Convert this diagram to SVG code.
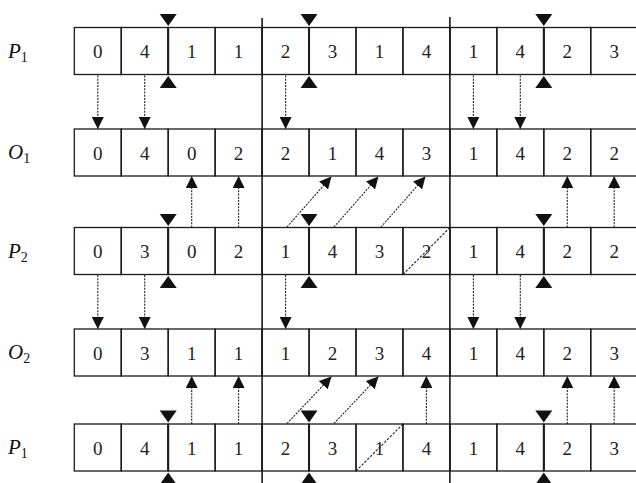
<svg xmlns="http://www.w3.org/2000/svg" width="636" height="483" viewBox="0 0 636 483">
<style>
.cell{fill:none;stroke:#1a1a1a;stroke-width:1.3}
.num{font-family:"Liberation Serif",serif;font-size:19px;fill:#222;text-anchor:middle}
.lab{font-family:"Liberation Serif",serif;font-size:21px;font-style:italic;fill:#111}
.sub{font-size:14px;font-style:normal}
.div{stroke:#1a1a1a;stroke-width:1.6}
.cut{stroke:#1a1a1a;stroke-width:2}
.tri{fill:#111}
.arr{stroke:#222;stroke-width:1.1;stroke-dasharray:2 1.2;fill:none;marker-end:url(#ah)}
.x{stroke:#222;stroke-width:1.1;stroke-dasharray:2.5 1.5;fill:none}
</style>
<defs>
<marker id="ah" viewBox="0 0 12 12" refX="12" refY="6" markerWidth="12" markerHeight="12" markerUnits="userSpaceOnUse" orient="auto">
<path d="M0,0 L12,6 L0,12 z" fill="#111"/>
</marker>
<g id="cells12">
<rect class="cell" x="74.3" y="0" width="46.95" height="47"/>
<rect class="cell" x="121.25" y="0" width="46.95" height="47"/>
<rect class="cell" x="168.2" y="0" width="46.95" height="47"/>
<rect class="cell" x="215.15" y="0" width="46.95" height="47"/>
<rect class="cell" x="262.1" y="0" width="46.95" height="47"/>
<rect class="cell" x="309.05" y="0" width="46.95" height="47"/>
<rect class="cell" x="356" y="0" width="46.95" height="47"/>
<rect class="cell" x="402.95" y="0" width="46.95" height="47"/>
<rect class="cell" x="449.9" y="0" width="46.95" height="47"/>
<rect class="cell" x="496.85" y="0" width="46.95" height="47"/>
<rect class="cell" x="543.8" y="0" width="46.95" height="47"/>
<rect class="cell" x="590.75" y="0" width="46.95" height="47"/>
</g>
<g id="marks">
<line class="cut" x1="168.2" y1="0" x2="168.2" y2="47"/>
<line class="cut" x1="309.05" y1="0" x2="309.05" y2="47"/>
<line class="cut" x1="543.8" y1="0" x2="543.8" y2="47"/>
<polygon class="tri" points="159.7,-13.5 176.7,-13.5 168.2,-1.5"/>
<polygon class="tri" points="300.55,-13.5 317.55,-13.5 309.05,-1.5"/>
<polygon class="tri" points="535.3,-13.5 552.3,-13.5 543.8,-1.5"/>
<polygon class="tri" points="159.7,60.5 176.7,60.5 168.2,48.5"/>
<polygon class="tri" points="300.55,60.5 317.55,60.5 309.05,48.5"/>
<polygon class="tri" points="535.3,60.5 552.3,60.5 543.8,48.5"/>
</g>
</defs>

<g id="dividers">
<line class="div" x1="262.1" y1="18" x2="262.1" y2="483"/>
<line class="div" x1="449.9" y1="17" x2="449.9" y2="483"/>
</g>

<g id="row-P1-top">
<text class="lab" x="8" y="58">P<tspan class="sub" dy="4">1</tspan></text>
<use href="#cells12" y="27.5"/>
<use href="#marks" y="27.5"/>
<g class="num" transform="translate(0,58)">
<text x="97.8">0</text><text x="144.7">4</text><text x="191.7">1</text><text x="238.6">1</text>
<text x="285.6">2</text><text x="332.5">3</text><text x="379.5">1</text><text x="426.4">4</text>
<text x="473.4">1</text><text x="520.3">4</text><text x="567.3">2</text><text x="614.2">3</text>
</g>
</g>

<g id="row-O1">
<text class="lab" x="8" y="159">O<tspan class="sub" dy="4">1</tspan></text>
<use href="#cells12" y="129"/>
<g class="num" transform="translate(0,159.5)">
<text x="97.8">0</text><text x="144.7">4</text><text x="191.7">0</text><text x="238.6">2</text>
<text x="285.6">2</text><text x="332.5">1</text><text x="379.5">4</text><text x="426.4">3</text>
<text x="473.4">1</text><text x="520.3">4</text><text x="567.3">2</text><text x="614.2">2</text>
</g>
</g>

<g id="row-P2">
<text class="lab" x="8" y="258">P<tspan class="sub" dy="4">2</tspan></text>
<use href="#cells12" y="227.5"/>
<use href="#marks" y="227.5"/>
<g class="num" transform="translate(0,258)">
<text x="97.8">0</text><text x="144.7">3</text><text x="191.7">0</text><text x="238.6">2</text>
<text x="285.6">1</text><text x="332.5">4</text><text x="379.5">3</text><text x="426.4">2</text>
<text x="473.4">1</text><text x="520.3">4</text><text x="567.3">2</text><text x="614.2">2</text>
</g>
</g>

<g id="row-O2">
<text class="lab" x="8" y="359">O<tspan class="sub" dy="4">2</tspan></text>
<use href="#cells12" y="329"/>
<g class="num" transform="translate(0,359.5)">
<text x="97.8">0</text><text x="144.7">3</text><text x="191.7">1</text><text x="238.6">1</text>
<text x="285.6">1</text><text x="332.5">2</text><text x="379.5">3</text><text x="426.4">4</text>
<text x="473.4">1</text><text x="520.3">4</text><text x="567.3">2</text><text x="614.2">3</text>
</g>
</g>

<g id="row-P1-bottom">
<text class="lab" x="8" y="454">P<tspan class="sub" dy="4">1</tspan></text>
<use href="#cells12" y="424"/>
<use href="#marks" y="424"/>
<g class="num" transform="translate(0,454.5)">
<text x="97.8">0</text><text x="144.7">4</text><text x="191.7">1</text><text x="238.6">1</text>
<text x="285.6">2</text><text x="332.5">3</text><text x="379.5">1</text><text x="426.4">4</text>
<text x="473.4">1</text><text x="520.3">4</text><text x="567.3">2</text><text x="614.2">3</text>
</g>
</g>

<g id="connectors">
<line class="arr" x1="97.8" y1="75.5" x2="97.8" y2="129"/>
<line class="arr" x1="144.7" y1="75.5" x2="144.7" y2="129"/>
<line class="arr" x1="285.6" y1="75.5" x2="285.6" y2="129"/>
<line class="arr" x1="473.4" y1="75.5" x2="473.4" y2="129"/>
<line class="arr" x1="520.3" y1="75.5" x2="520.3" y2="129"/>

<line class="arr" x1="191.7" y1="227.5" x2="191.7" y2="176"/>
<line class="arr" x1="238.6" y1="227.5" x2="238.6" y2="176"/>
<line class="arr" x1="287" y1="227" x2="331.5" y2="176.5"/>
<line class="arr" x1="334" y1="227" x2="378.5" y2="176.5"/>
<line class="arr" x1="381" y1="227" x2="425.5" y2="176.5"/>
<line class="arr" x1="567.3" y1="227.5" x2="567.3" y2="176"/>
<line class="arr" x1="614.2" y1="227.5" x2="614.2" y2="176"/>
<line class="x" x1="403" y1="274.5" x2="449.9" y2="227.5"/>

<line class="arr" x1="97.8" y1="275" x2="97.8" y2="329"/>
<line class="arr" x1="144.7" y1="275" x2="144.7" y2="329"/>
<line class="arr" x1="285.6" y1="275" x2="285.6" y2="329"/>
<line class="arr" x1="473.4" y1="275" x2="473.4" y2="329"/>
<line class="arr" x1="520.3" y1="275" x2="520.3" y2="329"/>

<line class="arr" x1="191.7" y1="424" x2="191.7" y2="376"/>
<line class="arr" x1="238.6" y1="424" x2="238.6" y2="376"/>
<line class="arr" x1="287" y1="423.5" x2="331.5" y2="376.5"/>
<line class="arr" x1="334" y1="423.5" x2="378.5" y2="376.5"/>
<line class="arr" x1="426.4" y1="424" x2="426.4" y2="376"/>
<line class="arr" x1="567.3" y1="424" x2="567.3" y2="376"/>
<line class="arr" x1="614.2" y1="424" x2="614.2" y2="376"/>
<line class="x" x1="356" y1="471" x2="403" y2="424"/>
</g>
</svg>
